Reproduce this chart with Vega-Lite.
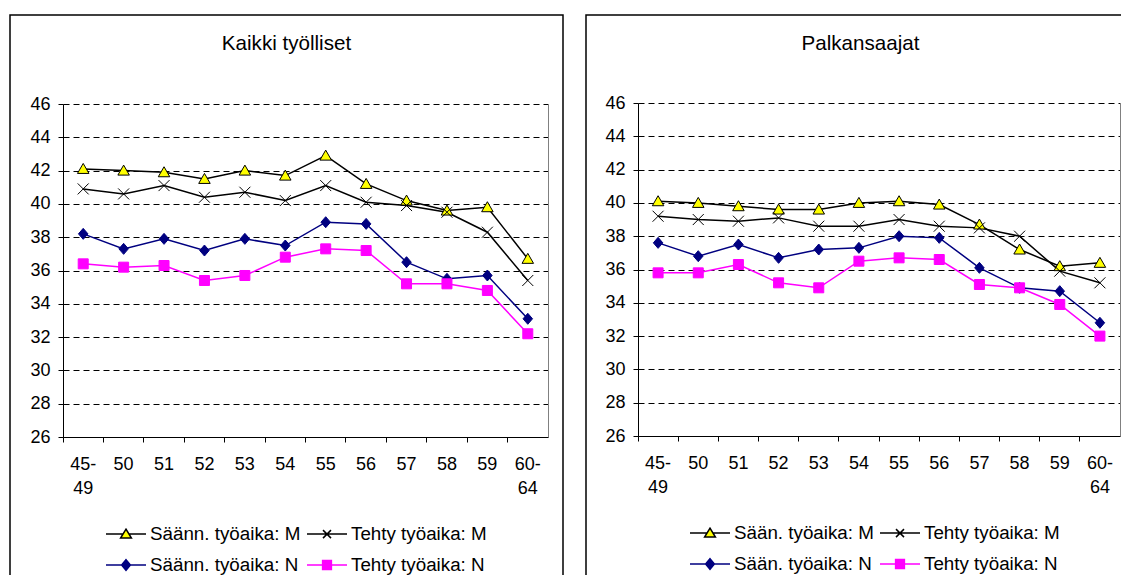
{
  "$schema": "https://vega.github.io/schema/vega-lite/v6.json",
  "padding": {"left": 9, "top": 14, "right": 0, "bottom": 0},
  "spacing": 21,
  "config": {
    "font": "Liberation Sans",
    "view": {"stroke": "black", "strokeWidth": 1.5},
    "axis": {"labelColor": "black", "labelFont": "Liberation Sans", "labelFontSize": 18, "title": null},
    "legend": {"labelFont": "Liberation Sans", "direction": "horizontal"}
  },
  "datasets": {
    "k": [
      {"a": "45-49", "s": "Säänn. työaika: M", "v": 42.1}, {"a": "50", "s": "Säänn. työaika: M", "v": 42.0}, {"a": "51", "s": "Säänn. työaika: M", "v": 41.9}, {"a": "52", "s": "Säänn. työaika: M", "v": 41.5}, {"a": "53", "s": "Säänn. työaika: M", "v": 42.0}, {"a": "54", "s": "Säänn. työaika: M", "v": 41.7}, {"a": "55", "s": "Säänn. työaika: M", "v": 42.9}, {"a": "56", "s": "Säänn. työaika: M", "v": 41.2}, {"a": "57", "s": "Säänn. työaika: M", "v": 40.2}, {"a": "58", "s": "Säänn. työaika: M", "v": 39.6}, {"a": "59", "s": "Säänn. työaika: M", "v": 39.8}, {"a": "60-64", "s": "Säänn. työaika: M", "v": 36.7},
      {"a": "45-49", "s": "Tehty työaika: M", "v": 40.9}, {"a": "50", "s": "Tehty työaika: M", "v": 40.6}, {"a": "51", "s": "Tehty työaika: M", "v": 41.1}, {"a": "52", "s": "Tehty työaika: M", "v": 40.4}, {"a": "53", "s": "Tehty työaika: M", "v": 40.7}, {"a": "54", "s": "Tehty työaika: M", "v": 40.2}, {"a": "55", "s": "Tehty työaika: M", "v": 41.1}, {"a": "56", "s": "Tehty työaika: M", "v": 40.1}, {"a": "57", "s": "Tehty työaika: M", "v": 39.9}, {"a": "58", "s": "Tehty työaika: M", "v": 39.5}, {"a": "59", "s": "Tehty työaika: M", "v": 38.3}, {"a": "60-64", "s": "Tehty työaika: M", "v": 35.4},
      {"a": "45-49", "s": "Säänn. työaika: N", "v": 38.2}, {"a": "50", "s": "Säänn. työaika: N", "v": 37.3}, {"a": "51", "s": "Säänn. työaika: N", "v": 37.9}, {"a": "52", "s": "Säänn. työaika: N", "v": 37.2}, {"a": "53", "s": "Säänn. työaika: N", "v": 37.9}, {"a": "54", "s": "Säänn. työaika: N", "v": 37.5}, {"a": "55", "s": "Säänn. työaika: N", "v": 38.9}, {"a": "56", "s": "Säänn. työaika: N", "v": 38.8}, {"a": "57", "s": "Säänn. työaika: N", "v": 36.5}, {"a": "58", "s": "Säänn. työaika: N", "v": 35.5}, {"a": "59", "s": "Säänn. työaika: N", "v": 35.7}, {"a": "60-64", "s": "Säänn. työaika: N", "v": 33.1},
      {"a": "45-49", "s": "Tehty työaika: N", "v": 36.4}, {"a": "50", "s": "Tehty työaika: N", "v": 36.2}, {"a": "51", "s": "Tehty työaika: N", "v": 36.3}, {"a": "52", "s": "Tehty työaika: N", "v": 35.4}, {"a": "53", "s": "Tehty työaika: N", "v": 35.7}, {"a": "54", "s": "Tehty työaika: N", "v": 36.8}, {"a": "55", "s": "Tehty työaika: N", "v": 37.3}, {"a": "56", "s": "Tehty työaika: N", "v": 37.2}, {"a": "57", "s": "Tehty työaika: N", "v": 35.2}, {"a": "58", "s": "Tehty työaika: N", "v": 35.2}, {"a": "59", "s": "Tehty työaika: N", "v": 34.8}, {"a": "60-64", "s": "Tehty työaika: N", "v": 32.2}
    ],
    "p": [
      {"a": "45-49", "s": "Sään. työaika: M", "v": 40.1}, {"a": "50", "s": "Sään. työaika: M", "v": 40.0}, {"a": "51", "s": "Sään. työaika: M", "v": 39.8}, {"a": "52", "s": "Sään. työaika: M", "v": 39.6}, {"a": "53", "s": "Sään. työaika: M", "v": 39.6}, {"a": "54", "s": "Sään. työaika: M", "v": 40.0}, {"a": "55", "s": "Sään. työaika: M", "v": 40.1}, {"a": "56", "s": "Sään. työaika: M", "v": 39.9}, {"a": "57", "s": "Sään. työaika: M", "v": 38.7}, {"a": "58", "s": "Sään. työaika: M", "v": 37.2}, {"a": "59", "s": "Sään. työaika: M", "v": 36.2}, {"a": "60-64", "s": "Sään. työaika: M", "v": 36.4},
      {"a": "45-49", "s": "Tehty työaika: M", "v": 39.2}, {"a": "50", "s": "Tehty työaika: M", "v": 39.0}, {"a": "51", "s": "Tehty työaika: M", "v": 38.9}, {"a": "52", "s": "Tehty työaika: M", "v": 39.1}, {"a": "53", "s": "Tehty työaika: M", "v": 38.6}, {"a": "54", "s": "Tehty työaika: M", "v": 38.6}, {"a": "55", "s": "Tehty työaika: M", "v": 39.0}, {"a": "56", "s": "Tehty työaika: M", "v": 38.6}, {"a": "57", "s": "Tehty työaika: M", "v": 38.5}, {"a": "58", "s": "Tehty työaika: M", "v": 38.0}, {"a": "59", "s": "Tehty työaika: M", "v": 35.9}, {"a": "60-64", "s": "Tehty työaika: M", "v": 35.2},
      {"a": "45-49", "s": "Sään. työaika: N", "v": 37.6}, {"a": "50", "s": "Sään. työaika: N", "v": 36.8}, {"a": "51", "s": "Sään. työaika: N", "v": 37.5}, {"a": "52", "s": "Sään. työaika: N", "v": 36.7}, {"a": "53", "s": "Sään. työaika: N", "v": 37.2}, {"a": "54", "s": "Sään. työaika: N", "v": 37.3}, {"a": "55", "s": "Sään. työaika: N", "v": 38.0}, {"a": "56", "s": "Sään. työaika: N", "v": 37.9}, {"a": "57", "s": "Sään. työaika: N", "v": 36.1}, {"a": "58", "s": "Sään. työaika: N", "v": 34.9}, {"a": "59", "s": "Sään. työaika: N", "v": 34.7}, {"a": "60-64", "s": "Sään. työaika: N", "v": 32.8},
      {"a": "45-49", "s": "Tehty työaika: N", "v": 35.8}, {"a": "50", "s": "Tehty työaika: N", "v": 35.8}, {"a": "51", "s": "Tehty työaika: N", "v": 36.3}, {"a": "52", "s": "Tehty työaika: N", "v": 35.2}, {"a": "53", "s": "Tehty työaika: N", "v": 34.9}, {"a": "54", "s": "Tehty työaika: N", "v": 36.5}, {"a": "55", "s": "Tehty työaika: N", "v": 36.7}, {"a": "56", "s": "Tehty työaika: N", "v": 36.6}, {"a": "57", "s": "Tehty työaika: N", "v": 35.1}, {"a": "58", "s": "Tehty työaika: N", "v": 34.9}, {"a": "59", "s": "Tehty työaika: N", "v": 33.9}, {"a": "60-64", "s": "Tehty työaika: N", "v": 32.0}
    ]
  },
  "hconcat": [
    {
      "width": 553,
      "height": 561,
      "data": {"name": "k"},
      "title": {"text": "Kaikki työlliset", "offset": -40, "fontSize": 20.6, "fontWeight": "normal", "font": "Liberation Sans", "color": "black", "anchor": "middle"},
      "encoding": {
        "x": {"field": "a", "type": "ordinal", "sort": null, "bandPosition": 0.5, "scale": {"type": "band", "range": [53, 538], "paddingInner": 0, "paddingOuter": 0}},
        "y": {"field": "v", "type": "quantitative", "scale": {"domain": [26, 46], "range": [422, 89], "nice": false, "zero": false}}
      },
      "layer": [
        {
          "mark": {"type": "line", "strokeWidth": 1.5},
          "encoding": {
            "x": {"field": "a", "type": "ordinal", "sort": null, "bandPosition": 0.5, "axis": {"orient": "bottom", "bandPosition": 0, "labels": false, "domain": true, "domainColor": "black", "domainWidth": 1, "ticks": true, "tickColor": "black", "tickSize": 5, "grid": false, "offset": -139}},
            "y": {"field": "v", "type": "quantitative", "axis": {"orient": "left", "values": [26, 28, 30, 32, 34, 36, 38, 40, 42, 44, 46], "offset": -53, "grid": true, "gridDash": [6, 4], "gridColor": "black", "gridWidth": 1, "domain": true, "domainColor": "black", "tickColor": "black", "tickSize": 5, "labelPadding": 8}},
            "stroke": {"field": "s", "type": "nominal", "legend": null, "scale": {"domain": ["Säänn. työaika: M", "Tehty työaika: M", "Säänn. työaika: N", "Tehty työaika: N"], "range": ["#000000", "#000000", "#000080", "#ff00ff"]}}
          }
        },
        {
          "mark": {"type": "point", "size": 100, "opacity": 1, "strokeWidth": 1},
          "encoding": {
            "x": {"field": "a", "type": "ordinal", "sort": null, "bandPosition": 0.5, "axis": {"orient": "bottom", "bandPosition": 0.5, "ticks": false, "tickSize": 0, "domain": false, "grid": false, "labelAngle": 0, "labelBaseline": "top", "labelPadding": 18, "labelLineHeight": 24, "offset": -139, "labelExpr": "indexof(datum.value, '-') > 0 ? [slice(datum.value, 0, 3), slice(datum.value, 3)] : datum.value"}},
            "y": {"field": "v", "type": "quantitative", "axis": {"orient": "right", "offset": -15, "domain": true, "domainColor": "#808080", "ticks": false, "labels": false, "grid": false}},
            "shape": {"field": "s", "type": "nominal", "legend": null, "scale": {"domain": ["Säänn. työaika: M", "Tehty työaika: M", "Säänn. työaika: N", "Tehty työaika: N"], "range": ["M0,-1.1L1.15,0.9L-1.15,0.9Z", "M-1.1,-1.1L1.1,1.1M-1.1,1.1L1.1,-1.1", "M0,-1.1L0.95,0L0,1.1L-0.95,0Z", "M-1,-1H1V1H-1Z"]}},
            "fill": {"field": "s", "type": "nominal", "legend": null, "scale": {"domain": ["Säänn. työaika: M", "Tehty työaika: M", "Säänn. työaika: N", "Tehty työaika: N"], "range": ["#ffff00", "transparent", "#000080", "#ff00ff"]}},
            "stroke": {"field": "s", "type": "nominal", "legend": null, "scale": {"domain": ["Säänn. työaika: M", "Tehty työaika: M", "Säänn. työaika: N", "Tehty työaika: N"], "range": ["#000000", "#000000", "#000080", "#ff00ff"]}}
          }
        },
        {
          "mark": {"type": "point", "opacity": 0},
          "encoding": {
            "x": {"field": "a", "type": "ordinal", "sort": null, "bandPosition": 0.5, "axis": null},
            "y": {"field": "v", "type": "quantitative", "axis": null},
            "shape": {"field": "s", "type": "nominal", "scale": {"domain": ["Säänn. työaika: M", "Tehty työaika: M", "Säänn. työaika: N", "Tehty työaika: N"], "range": ["M-1,0H-0.15M0.15,0H1M0,-0.25L0.27,0.2L-0.27,0.2Z", "M-1,0H1M-0.2,-0.2L0.2,0.2M-0.2,0.2L0.2,-0.2", "M-1,0H1M0,-0.27L0.22,0L0,0.27L-0.22,0Z", "M-1,0H1M-0.22,-0.22H0.22V0.22H-0.22Z"]}, "legend": {"orient": "none", "direction": "horizontal", "legendX": 95, "legendY": 498, "columns": 2, "title": null, "labelFontSize": 18.8, "labelColor": "black", "symbolSize": 1600, "symbolStrokeWidth": 1.5, "columnPadding": 3, "rowPadding": -12, "labelOffset": 3, "padding": 0, "symbolOpacity": 1, "labelLimit": 300}},
            "fill": {"field": "s", "type": "nominal", "scale": {"domain": ["Säänn. työaika: M", "Tehty työaika: M", "Säänn. työaika: N", "Tehty työaika: N"], "range": ["#ffff00", "transparent", "#000080", "#ff00ff"]}, "legend": {"orient": "none", "direction": "horizontal", "legendX": 95, "legendY": 498, "columns": 2, "title": null, "labelFontSize": 18.8, "labelColor": "black", "symbolSize": 1600, "symbolStrokeWidth": 1.5, "columnPadding": 3, "rowPadding": -12, "labelOffset": 3, "padding": 0, "symbolOpacity": 1, "labelLimit": 300}},
            "stroke": {"field": "s", "type": "nominal", "scale": {"domain": ["Säänn. työaika: M", "Tehty työaika: M", "Säänn. työaika: N", "Tehty työaika: N"], "range": ["#000000", "#000000", "#000080", "#ff00ff"]}, "legend": {"orient": "none", "direction": "horizontal", "legendX": 95, "legendY": 498, "columns": 2, "title": null, "labelFontSize": 18.8, "labelColor": "black", "symbolSize": 1600, "symbolStrokeWidth": 1.5, "columnPadding": 3, "rowPadding": -12, "labelOffset": 3, "padding": 0, "symbolOpacity": 1, "labelLimit": 300}}
          }
        }
      ],
      "resolve": {"scale": {"shape": "independent", "fill": "independent", "stroke": "independent"}, "axis": {"x": "independent", "y": "independent"}}
    },
    {
      "width": 549,
      "height": 561,
      "data": {"name": "p"},
      "title": {"text": "Palkansaajat", "offset": -40, "fontSize": 20.6, "fontWeight": "normal", "font": "Liberation Sans", "color": "black", "anchor": "middle"},
      "encoding": {
        "x": {"field": "a", "type": "ordinal", "sort": null, "bandPosition": 0.5, "scale": {"type": "band", "range": [52, 534], "paddingInner": 0, "paddingOuter": 0}},
        "y": {"field": "v", "type": "quantitative", "scale": {"domain": [26, 46], "range": [421, 88], "nice": false, "zero": false}}
      },
      "layer": [
        {
          "mark": {"type": "line", "strokeWidth": 1.5},
          "encoding": {
            "x": {"field": "a", "type": "ordinal", "sort": null, "bandPosition": 0.5, "axis": {"orient": "bottom", "bandPosition": 0, "labels": false, "domain": true, "domainColor": "black", "domainWidth": 1, "ticks": true, "tickColor": "black", "tickSize": 5, "grid": false, "offset": -140}},
            "y": {"field": "v", "type": "quantitative", "axis": {"orient": "left", "values": [26, 28, 30, 32, 34, 36, 38, 40, 42, 44, 46], "offset": -52, "grid": true, "gridDash": [6, 4], "gridColor": "black", "gridWidth": 1, "domain": true, "domainColor": "black", "tickColor": "black", "tickSize": 5, "labelPadding": 8}},
            "stroke": {"field": "s", "type": "nominal", "legend": null, "scale": {"domain": ["Sään. työaika: M", "Tehty työaika: M", "Sään. työaika: N", "Tehty työaika: N"], "range": ["#000000", "#000000", "#000080", "#ff00ff"]}}
          }
        },
        {
          "mark": {"type": "point", "size": 100, "opacity": 1, "strokeWidth": 1},
          "encoding": {
            "x": {"field": "a", "type": "ordinal", "sort": null, "bandPosition": 0.5, "axis": {"orient": "bottom", "bandPosition": 0.5, "ticks": false, "tickSize": 0, "domain": false, "grid": false, "labelAngle": 0, "labelBaseline": "top", "labelPadding": 18, "labelLineHeight": 24, "offset": -140, "labelExpr": "indexof(datum.value, '-') > 0 ? [slice(datum.value, 0, 3), slice(datum.value, 3)] : datum.value"}},
            "y": {"field": "v", "type": "quantitative", "axis": {"orient": "right", "offset": -15, "domain": true, "domainColor": "#808080", "ticks": false, "labels": false, "grid": false}},
            "shape": {"field": "s", "type": "nominal", "legend": null, "scale": {"domain": ["Sään. työaika: M", "Tehty työaika: M", "Sään. työaika: N", "Tehty työaika: N"], "range": ["M0,-1.1L1.15,0.9L-1.15,0.9Z", "M-1.1,-1.1L1.1,1.1M-1.1,1.1L1.1,-1.1", "M0,-1.1L0.95,0L0,1.1L-0.95,0Z", "M-1,-1H1V1H-1Z"]}},
            "fill": {"field": "s", "type": "nominal", "legend": null, "scale": {"domain": ["Sään. työaika: M", "Tehty työaika: M", "Sään. työaika: N", "Tehty työaika: N"], "range": ["#ffff00", "transparent", "#000080", "#ff00ff"]}},
            "stroke": {"field": "s", "type": "nominal", "legend": null, "scale": {"domain": ["Sään. työaika: M", "Tehty työaika: M", "Sään. työaika: N", "Tehty työaika: N"], "range": ["#000000", "#000000", "#000080", "#ff00ff"]}}
          }
        },
        {
          "mark": {"type": "point", "opacity": 0},
          "encoding": {
            "x": {"field": "a", "type": "ordinal", "sort": null, "bandPosition": 0.5, "axis": null},
            "y": {"field": "v", "type": "quantitative", "axis": null},
            "shape": {"field": "s", "type": "nominal", "scale": {"domain": ["Sään. työaika: M", "Tehty työaika: M", "Sään. työaika: N", "Tehty työaika: N"], "range": ["M-1,0H-0.15M0.15,0H1M0,-0.25L0.27,0.2L-0.27,0.2Z", "M-1,0H1M-0.2,-0.2L0.2,0.2M-0.2,0.2L0.2,-0.2", "M-1,0H1M0,-0.27L0.22,0L0,0.27L-0.22,0Z", "M-1,0H1M-0.22,-0.22H0.22V0.22H-0.22Z"]}, "legend": {"orient": "none", "direction": "horizontal", "legendX": 103, "legendY": 497, "columns": 2, "title": null, "labelFontSize": 18.8, "labelColor": "black", "symbolSize": 1600, "symbolStrokeWidth": 1.5, "columnPadding": 3, "rowPadding": -13, "labelOffset": 3, "padding": 0, "symbolOpacity": 1, "labelLimit": 300}},
            "fill": {"field": "s", "type": "nominal", "scale": {"domain": ["Sään. työaika: M", "Tehty työaika: M", "Sään. työaika: N", "Tehty työaika: N"], "range": ["#ffff00", "transparent", "#000080", "#ff00ff"]}, "legend": {"orient": "none", "direction": "horizontal", "legendX": 103, "legendY": 497, "columns": 2, "title": null, "labelFontSize": 18.8, "labelColor": "black", "symbolSize": 1600, "symbolStrokeWidth": 1.5, "columnPadding": 3, "rowPadding": -13, "labelOffset": 3, "padding": 0, "symbolOpacity": 1, "labelLimit": 300}},
            "stroke": {"field": "s", "type": "nominal", "scale": {"domain": ["Sään. työaika: M", "Tehty työaika: M", "Sään. työaika: N", "Tehty työaika: N"], "range": ["#000000", "#000000", "#000080", "#ff00ff"]}, "legend": {"orient": "none", "direction": "horizontal", "legendX": 103, "legendY": 497, "columns": 2, "title": null, "labelFontSize": 18.8, "labelColor": "black", "symbolSize": 1600, "symbolStrokeWidth": 1.5, "columnPadding": 3, "rowPadding": -13, "labelOffset": 3, "padding": 0, "symbolOpacity": 1, "labelLimit": 300}}
          }
        }
      ],
      "resolve": {"scale": {"shape": "independent", "fill": "independent", "stroke": "independent"}, "axis": {"x": "independent", "y": "independent"}}
    }
  ]
}
